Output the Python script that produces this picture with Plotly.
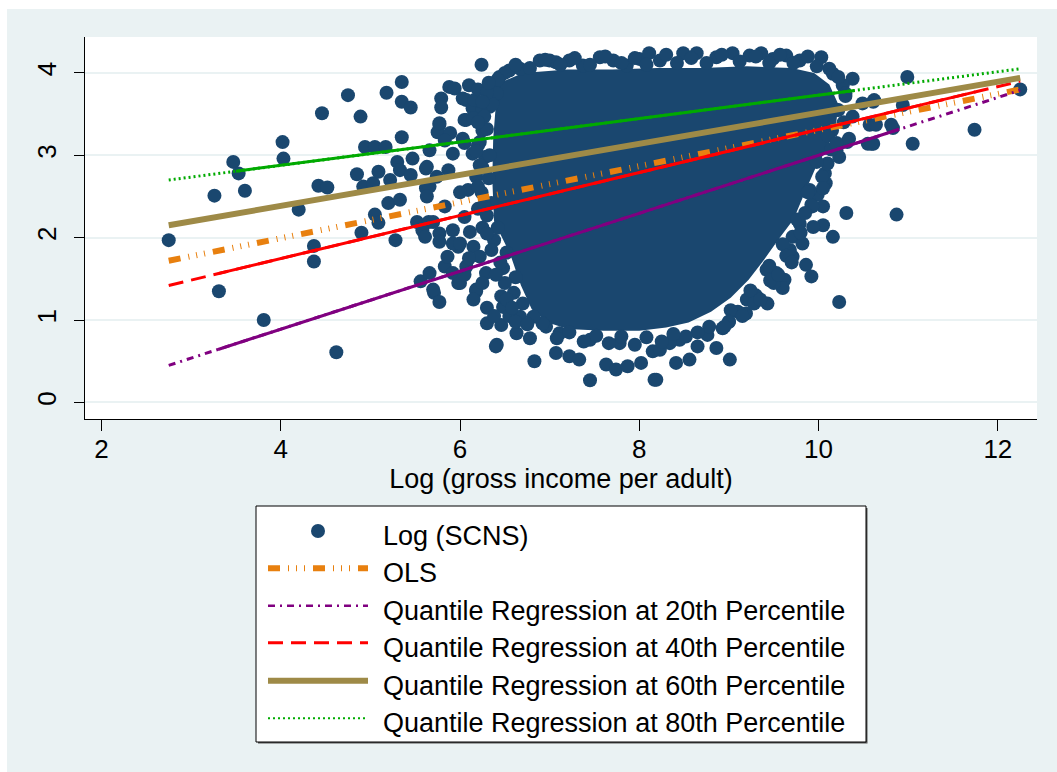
import plotly.graph_objects as go

# ---- data -------------------------------------------------------------
# Log gross income per adult (x) and log SCNS (y), individual observations
log_income = [
    2.75, 3.26, 3.47, 3.53, 3.60, 3.31, 3.81, 4.02, 4.03, 4.20, 4.37, 4.37, 4.42, 4.52,
    4.46, 4.62, 4.75, 4.89, 4.85, 4.90, 4.94, 5.05, 5.17, 4.92, 5.03, 5.09, 5.05, 5.09,
    5.22, 5.20, 5.33, 5.28, 5.18, 5.35, 5.35, 5.45, 5.35, 5.30, 5.33, 5.45, 5.47, 5.52,
    5.56, 5.71, 5.77, 5.62, 5.62, 5.65, 5.58, 5.77, 5.88, 5.94, 5.79, 5.79, 5.77, 5.75,
    6.24, 5.92, 6.30, 6.40, 6.07, 5.98, 6.18, 5.83, 5.98, 5.86, 5.92, 6.07, 6.07, 6.03,
    6.14,
    6.03, 6.16, 6.05, 5.77, 5.89, 5.83, 5.66, 5.63, 5.87, 5.74, 6.14, 6.28, 6.18, 6.09,
    5.66, 5.63, 5.83, 5.70, 5.61, 5.92, 5.77, 6.00, 6.11, 6.15, 6.22, 5.92, 5.66, 6.00,
    5.70, 6.18, 6.29, 6.46, 6.41, 6.63, 6.78, 6.83, 7.07, 7.22, 7.33, 7.45, 7.63, 7.74,
    7.87, 8.02, 8.17, 7.78, 8.15, 7.45, 7.11, 6.96, 6.67, 6.48, 6.46, 6.44, 6.55, 6.67,
    6.89, 7.00, 7.07, 7.22, 7.37, 7.56, 7.71, 7.86, 8.00, 8.11, 8.23, 6.37, 6.41, 6.33,
    6.10, 6.20, 6.25, 6.15, 6.25, 6.05, 6.20, 6.25, 6.00, 6.20, 6.05, 6.25, 6.10, 6.25,
    6.05, 6.15, 6.30, 6.38,
    8.49, 8.64, 8.86, 9.04, 9.23, 9.36, 9.49, 9.64, 9.79, 10.03, 10.12, 10.16, 10.38, 10.27,
    10.99, 10.62, 10.49, 10.38, 10.57, 10.64, 10.83, 10.94, 10.34, 10.55, 10.61, 11.05, 11.74, 12.25,
    10.20, 10.23, 10.07, 9.99, 9.92, 10.31, 10.87, 10.05, 9.94, 10.16, 9.79, 9.71, 9.71, 9.86,
    9.92, 9.62, 9.60, 10.23, 9.43, 9.19, 9.10, 8.93, 8.86, 9.01, 8.65, 8.56, 8.41, 8.19,
    8.76, 8.45, 8.34, 8.23, 9.53, 9.42, 9.68, 9.82, 10.08, 10.05, 9.90, 10.61, 10.81, 10.59,
    10.32, 10.20, 10.30, 10.15, 10.10, 9.30, 9.50, 9.00, 9.20,
    # rim of the dense centre: top
    6.50, 6.62, 6.78, 6.95, 7.12, 7.28, 7.45, 7.62, 7.80, 7.95, 8.08, 8.30, 8.42, 8.58,
    8.75, 8.92, 9.12, 9.30, 9.45, 9.57, 9.72, 9.88, 9.98,
    # right
    10.22, 10.30, 10.22, 10.28, 10.10, 10.14, 9.98, 10.04, 9.88, 9.93, 9.76, 9.80, 9.60,
    9.64, 9.45, 9.46, 9.24, 9.28, 9.02, 9.00, 8.78,
    9.35, 9.15, 8.95, 9.55, 9.70, 9.85, 10.05, 10.20,
    # bottom
    8.65, 8.52, 8.38, 8.25, 8.08, 7.95, 7.80, 7.66, 7.52, 7.38, 7.22, 7.08, 6.92, 6.82,
    # left
    6.70, 6.60, 6.62, 6.48, 6.52, 6.38, 6.42, 6.30, 6.35, 6.24, 6.32, 6.22, 6.33, 6.22,
    6.30, 6.27, 6.36, 6.30, 6.42,
    6.55, 6.62, 6.75, 6.50, 6.45, 6.40, 6.52, 6.58, 6.35, 6.30, 6.27, 6.20, 6.18, 6.20,
    6.25, 6.32,
]
log_scns = [
    1.97, 2.51, 2.92, 2.78, 2.57, 1.35, 1.00, 3.16, 2.96, 2.34, 1.90, 1.71, 2.63, 2.61,
    3.51, 0.61, 3.73, 3.47, 2.77, 2.06, 3.10, 3.10, 3.10, 2.62, 2.66, 2.80, 2.28, 2.18,
    2.70, 2.42, 2.46, 1.97, 3.76, 3.89, 3.65, 3.58, 3.22, 2.92, 2.82, 2.76, 2.96, 2.19,
    1.47, 1.33, 1.22, 2.84, 2.60, 2.19, 2.09, 2.05, 3.83, 3.81, 3.69, 3.58, 3.37, 3.28,
    4.10, 3.02, 0.96, 0.68, 1.65, 1.45, 1.35, 1.65, 1.89, 1.77, 2.09, 3.67, 3.43, 3.20,
    3.57,
    3.69, 3.67, 3.43, 3.39, 3.27, 3.18, 3.06, 2.86, 2.82, 2.74, 3.02, 2.98, 2.74, 2.58,
    2.62, 2.50, 2.38, 2.19, 2.01, 1.93, 1.95, 1.93, 2.07, 1.89, 1.77, 1.57, 1.57, 1.45,
    1.37, 1.37, 1.57, 0.94, 0.70, 0.84, 0.78, 0.50, 0.60, 0.56, 0.52, 0.27, 0.46, 0.40,
    0.44, 0.48, 0.275, 0.72, 0.62, 0.76, 0.84, 0.92, 1.04, 1.16, 1.29, 3.95, 4.03, 4.05,
    4.15, 4.15, 4.13, 4.15, 4.09, 4.19, 4.15, 4.09, 4.17, 4.24, 4.15, 3.83, 3.75, 3.59,
    3.85, 3.80, 3.55, 3.45, 3.30, 3.15, 3.12, 2.85, 2.55, 2.35, 2.25, 2.12, 1.75, 1.45,
    1.55, 1.25, 1.15, 1.05,
    4.24, 4.24, 4.19, 4.24, 4.21, 4.24, 4.17, 4.21, 4.15, 4.19, 4.05, 3.99, 3.93, 3.85,
    3.95, 3.67, 3.63, 3.47, 3.37, 3.37, 3.33, 3.61, 3.20, 3.14, 3.14, 3.14, 3.31, 3.80,
    3.06, 2.98, 2.78, 2.52, 2.40, 2.30, 2.28, 2.15, 2.13, 2.01, 2.17, 2.01, 1.77, 1.67,
    1.53, 1.49, 1.39, 1.22, 1.20, 1.08, 1.10, 0.90, 0.66, 0.52, 0.68, 0.52, 0.48, 0.275,
    0.82, 0.76, 0.72, 0.64, 1.57, 1.61, 1.85, 1.93, 2.66, 2.38, 2.58, 3.65, 3.37, 3.14,
    3.16, 3.55, 3.75, 3.30, 2.90, 1.30, 1.45, 0.98, 1.25,
    # rim of the dense centre: top
    4.00, 4.10, 4.06, 4.16, 4.10, 4.18, 4.10, 4.20, 4.12, 4.18, 4.10, 4.22, 4.12, 4.18,
    4.12, 4.22, 4.14, 4.20, 4.12, 4.22, 4.12, 4.20, 4.08,
    # right
    3.95, 3.72, 3.55, 3.40, 3.24, 3.07, 2.92, 2.74, 2.55, 2.38, 2.22, 2.06, 1.92,
    1.78, 1.66, 1.48, 1.36, 1.20, 1.12, 0.98, 0.92,
    1.25, 1.05, 0.92, 1.55, 1.70, 2.30, 2.60, 3.15,
    # bottom
    0.85, 0.80, 0.83, 0.74, 0.79, 0.70, 0.80, 0.72, 0.81, 0.74, 0.85, 0.78, 0.96, 1.04,
    # left
    1.20, 1.33, 1.52, 1.63, 1.82, 1.97, 2.12, 2.27, 2.42, 2.55, 2.72, 2.88, 3.00, 3.16,
    3.32, 3.47, 3.62, 3.76, 3.92,
    1.05, 0.98, 0.95, 1.45, 1.70, 1.55, 1.25, 1.15, 1.85, 2.05, 2.40, 2.62, 3.05, 3.40,
    3.65, 3.88,
]

# Outline of the heavily overplotted centre of the cloud (solid area)
core_x = [6.45, 6.70, 7.20, 7.70, 8.20, 8.70, 9.20, 9.70, 9.95, 10.12, 10.22, 10.19,
          10.09, 9.96, 9.84, 9.72, 9.56, 9.39, 9.22, 9.02, 8.80, 8.55, 8.30, 8.00,
          7.60, 7.20, 6.98, 6.80, 6.68, 6.56, 6.38, 6.36, 6.37, 6.40]
core_y = [3.88, 4.00, 4.04, 4.04, 4.06, 4.06, 4.08, 4.06, 4.00, 3.86, 3.62, 3.32,
          3.08, 2.83, 2.53, 2.22, 1.99, 1.73, 1.49, 1.27, 1.10, 0.97, 0.91, 0.87,
          0.87, 0.89, 0.97, 1.13, 1.42, 1.80, 2.20, 2.70, 3.20, 3.62]

# Fitted lines: x knots and fitted values (sparse ends, dense middle)
ols_x = [2.75, 12.25]
ols_y = [1.72, 3.80]
q20_x = [2.75, 3.30, 10.90, 12.25]
q20_y = [0.45, 0.643, 3.316, 3.79]
q40_x = [2.75, 3.30, 11.75, 12.25]
q40_y = [1.42, 1.564, 3.770, 3.90]
q60_x = [2.75, 12.25]
q60_y = [2.15, 3.94]
q80_x = [2.75, 3.50, 10.40, 12.25]
q80_y = [2.70, 2.807, 3.787, 4.05]

x_ticks = [2, 4, 6, 8, 10, 12]
y_ticks = [0, 1, 2, 3, 4]

legend_labels = [
    "Log (SCNS)",
    "OLS",
    "Quantile Regression at 20th Percentile",
    "Quantile Regression at 40th Percentile",
    "Quantile Regression at 60th Percentile",
    "Quantile Regression at 80th Percentile",
]

# ---- styling ----------------------------------------------------------
NAVY = "#1A476F"
ORANGE = "#E8800F"
PURPLE = "#800080"
RED = "#FF0000"
TAN = "#9E8A47"
GREEN = "#00AA00"
BG = "#EAF2F3"
FONT = "Liberation Sans, Arial, sans-serif"

OLS_DASH = "12px,8px,1px,7px,1px,7px,1px,8px"
Q20_DASH = "7px,5px,2px,5px"
Q40_DASH = "15px,8px"
Q80_DASH = "2px,3px"

W, H = 1057, 772
ML, MR, MT, MB = 85, 20, 37, 353
PW, PH = W - ML - MR, H - MT - MB


def px_x(px):
    return (px - ML) / PW


def px_y(py):
    return (H - MB - py) / PH


fig = go.Figure()

fig.add_trace(go.Scatter(x=core_x, y=core_y, mode="lines", fill="toself",
                         fillcolor=NAVY, line=dict(width=0, color=NAVY),
                         hoverinfo="skip", showlegend=False))
fig.add_trace(go.Scatter(x=log_income, y=log_scns, mode="markers",
                         marker=dict(size=14, color=NAVY, line=dict(width=0)),
                         name=legend_labels[0], showlegend=False))

fig.add_trace(go.Scatter(x=ols_x, y=ols_y, mode="lines",
                         line=dict(color=ORANGE, width=6, dash=OLS_DASH),
                         showlegend=False))


def fitted(xs, ys, color, width, dash):
    # patterned over the whole range, solid where observations are dense
    fig.add_trace(go.Scatter(x=xs, y=ys, mode="lines",
                             line=dict(color=color, width=width, dash=dash),
                             showlegend=False))
    if len(xs) == 4:
        fig.add_trace(go.Scatter(x=xs[1:3], y=ys[1:3], mode="lines",
                                 line=dict(color=color, width=width),
                                 showlegend=False))


fitted(q20_x, q20_y, PURPLE, 3, Q20_DASH)
fitted(q40_x, q40_y, RED, 3, Q40_DASH)
fitted(q60_x, q60_y, TAN, 6, "solid")
fitted(q80_x, q80_y, GREEN, 3, Q80_DASH)

shapes = [
    # white frame strips round the graph region
    dict(type="rect", xref="paper", yref="paper", x0=px_x(0), x1=px_x(7),
         y0=px_y(H), y1=px_y(0), fillcolor="white", line=dict(width=0), layer="below"),
    dict(type="rect", xref="paper", yref="paper", x0=px_x(0), x1=px_x(W),
         y0=px_y(9), y1=px_y(0), fillcolor="white", line=dict(width=0), layer="below"),
    # legend box with shadow
    dict(type="rect", xref="paper", yref="paper", x0=px_x(258), x1=px_x(867.5),
         y0=px_y(743.5), y1=px_y(508), fillcolor="#555555", line=dict(width=0)),
    dict(type="rect", xref="paper", yref="paper", x0=px_x(256), x1=px_x(866),
         y0=px_y(742), y1=px_y(506), fillcolor="white", line=dict(color="black", width=1)),
]

row_y = [531, 568.3, 605.7, 642.7, 680.7, 718.3]
sym_x0, sym_x1 = 268, 368
legend_styles = [
    (ORANGE, 6, OLS_DASH),
    (PURPLE, 2.5, Q20_DASH),
    (RED, 3, Q40_DASH),
    (TAN, 6, "solid"),
    (GREEN, 2, Q80_DASH),
]
shapes.append(dict(type="circle", xref="paper", yref="paper",
                   xsizemode="pixel", ysizemode="pixel",
                   xanchor=px_x(318), yanchor=px_y(row_y[0]),
                   x0=-7, x1=7, y0=-7, y1=7,
                   fillcolor=NAVY, line=dict(width=0)))
for (col, wd, dash), ry in zip(legend_styles, row_y[1:]):
    shapes.append(dict(type="line", xref="paper", yref="paper",
                       x0=px_x(sym_x0), x1=px_x(sym_x1), y0=px_y(ry), y1=px_y(ry),
                       line=dict(color=col, width=wd, dash=dash)))

annotations = []
for lab, ry in zip(legend_labels, row_y):
    annotations.append(dict(text=lab, xref="paper", yref="paper",
                            x=px_x(381), y=px_y(ry + 5), xanchor="left", yanchor="middle",
                            showarrow=False, font=dict(family=FONT, size=27, color="black")))

fig.update_layout(
    width=W, height=H, autosize=False,
    margin=dict(l=ML, r=MR, t=MT, b=MB, pad=0),
    paper_bgcolor=BG, plot_bgcolor="white",
    font=dict(family=FONT, size=26, color="black"),
    showlegend=False,
    shapes=shapes, annotations=annotations,
)
fig.update_xaxes(range=[1.816, 12.437], tickvals=x_ticks, ticks="outside", ticklen=11,
                 tickcolor="black", tickwidth=1, showline=True, linecolor="black",
                 linewidth=1, showgrid=False, zeroline=False, ticklabelstandoff=-4,
                 tickfont=dict(family=FONT, size=26, color="black"),
                 title=dict(text="Log (gross income per adult)", standoff=2,
                            font=dict(family=FONT, size=27, color="black")))
fig.update_yaxes(range=[-0.201, 4.436], tickvals=y_ticks, ticks="outside", ticklen=10,
                 tickcolor="black", tickwidth=1, showline=True, linecolor="black",
                 linewidth=1, showgrid=True, gridcolor=BG, gridwidth=2, zeroline=False,
                 ticklabelstandoff=8,
                 tickangle=-90, tickfont=dict(family=FONT, size=26, color="black"))

fig.write_html("out.html")
